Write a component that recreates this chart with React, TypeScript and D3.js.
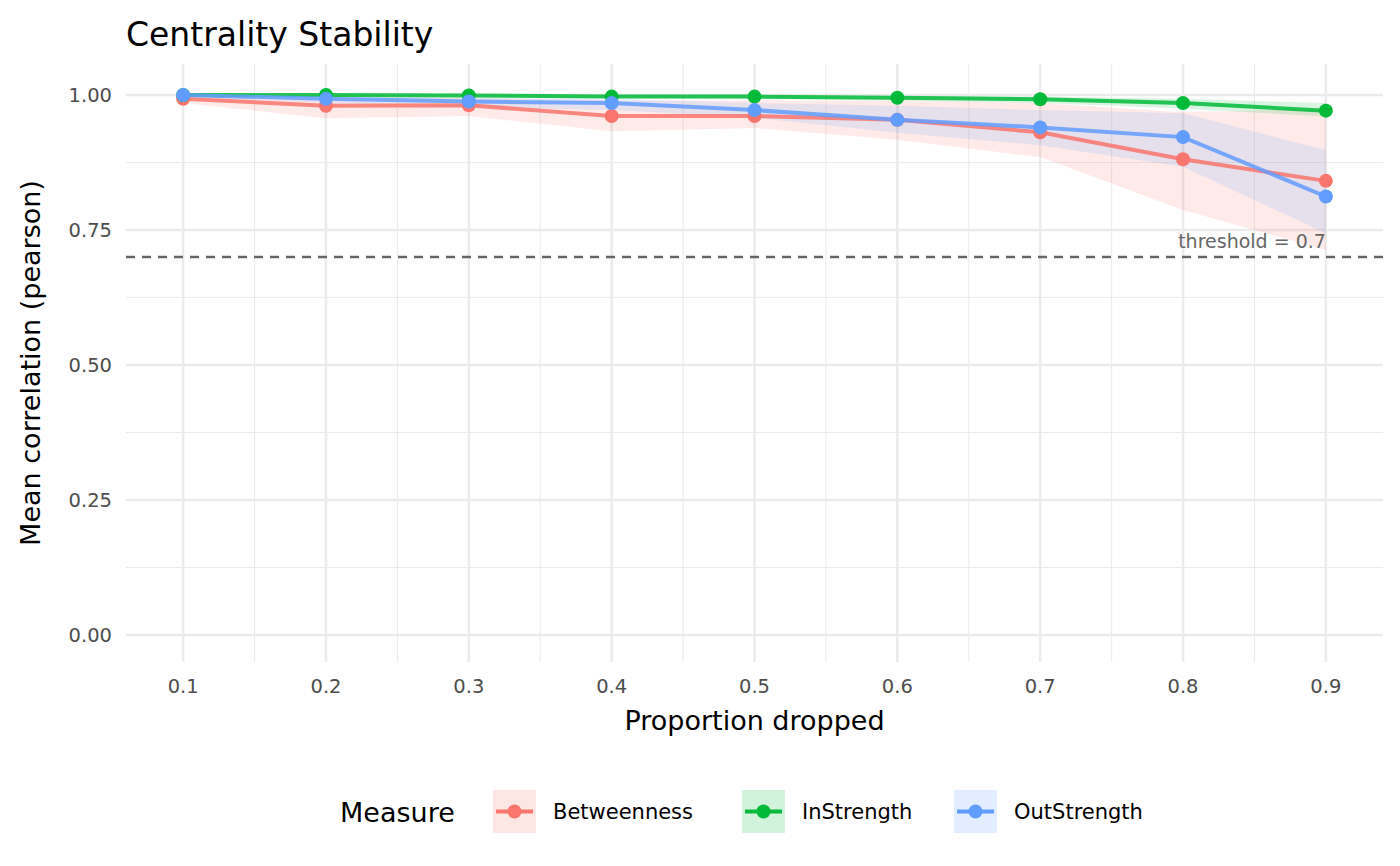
import * as d3 from "d3"

const props = [0.1, 0.2, 0.3, 0.4, 0.5, 0.6, 0.7, 0.8, 0.9]
const measures = ["Betweenness", "InStrength", "OutStrength"]
const colors = ["#F8766D", "#00BA38", "#619CFF"]

const betMean = [0.993, 0.98, 0.981, 0.961, 0.961, 0.954, 0.931, 0.881, 0.841]
const betLo = [0.985, 0.957, 0.961, 0.933, 0.939, 0.917, 0.885, 0.787, 0.713]
const betHi = [0.999, 0.995, 0.995, 0.99, 0.99, 0.99, 0.985, 0.968, 0.975]
const inMean = [1.0, 1.0, 0.999, 0.997, 0.997, 0.995, 0.992, 0.985, 0.971]
const inLo = [0.999, 0.998, 0.997, 0.994, 0.993, 0.99, 0.985, 0.975, 0.96]
const inHi = [1.0, 1.0, 1.0, 0.999, 0.999, 0.998, 0.997, 0.993, 0.985]
const outMean = [1.0, 0.993, 0.988, 0.985, 0.972, 0.954, 0.94, 0.922, 0.812]
const outLo = [0.997, 0.985, 0.978, 0.972, 0.958, 0.93, 0.907, 0.867, 0.744]
const outHi = [1.0, 0.998, 0.995, 0.993, 0.985, 0.98, 0.972, 0.966, 0.898]

const yTicks = [0, 0.25, 0.5, 0.75, 1]
const threshold = 0.7

const series = [
  { mean: betMean, lo: betLo, hi: betHi },
  { mean: inMean, lo: inLo, hi: inHi },
  { mean: outMean, lo: outLo, hi: outHi },
]

export default function App() {
  const W = 1400, H = 866
  const L = 126, R = 1383, T = 64, B = 662
  const x = d3.scaleLinear().domain([0.06, 0.94]).range([L, R])
  const y = d3.scaleLinear().domain([-0.05, 1.0574]).range([B, T])
  const font = "DejaVu Sans, sans-serif"
  const grid = "#EBEBEB"
  const minorX = d3.range(0, 8).map((i) => 0.15 + i * 0.1)
  const minorY = [0.125, 0.375, 0.625, 0.875]
  const line = d3.line<number>().x((_, i) => x(props[i])).y((d) => y(d))
  const legItems = [
    { x: 493, tx: 553 },
    { x: 742, tx: 802 },
    { x: 954, tx: 1014 },
  ]
  return (
    <svg width={W} height={H} style={{ position: "absolute", left: 0, top: 0 }} fontFamily={font}>
      <rect width={W} height={H} fill="white" />
      {minorX.map((v) => (
        <line key={"mx" + v} x1={x(v)} x2={x(v)} y1={T} y2={B} stroke={grid} strokeWidth={1.1} />
      ))}
      {minorY.map((v) => (
        <line key={"my" + v} x1={L} x2={R} y1={y(v)} y2={y(v)} stroke={grid} strokeWidth={1.1} />
      ))}
      {props.map((v) => (
        <line key={"gx" + v} x1={x(v)} x2={x(v)} y1={T} y2={B} stroke={grid} strokeWidth={2.5} />
      ))}
      {yTicks.map((v) => (
        <line key={"gy" + v} x1={L} x2={R} y1={y(v)} y2={y(v)} stroke={grid} strokeWidth={2.5} />
      ))}
      {series.map((s, k) => (
        <path
          key={"r" + k}
          d={
            d3
              .area<number>()
              .x((_, i) => x(props[i]))
              .y0((_, i) => y(s.lo[i]))
              .y1((_, i) => y(s.hi[i]))(s.mean) || ""
          }
          fill={colors[k]}
          fillOpacity={0.15}
        />
      ))}
      <line x1={L} x2={R} y1={y(threshold)} y2={y(threshold)} stroke="#666666" strokeWidth={2.6} strokeDasharray="9 7" />
      <text x={x(0.9)} y={y(threshold) - 9} textAnchor="end" fontSize={19} fill="#666666">
        threshold = 0.7
      </text>
      {series.map((s, k) => (
        <g key={"l" + k}>
          <path d={line(s.mean) || ""} fill="none" stroke={colors[k]} strokeWidth={4} strokeOpacity={0.85} />
          {s.mean.map((v, i) => (
            <circle key={i} cx={x(props[i])} cy={y(v)} r={7} fill={colors[k]} />
          ))}
        </g>
      ))}
      {yTicks.map((v) => (
        <text key={"yt" + v} x={L - 14} y={y(v)} dy="0.35em" textAnchor="end" fontSize={19.5} fill="#4D4D4D">
          {v.toFixed(2)}
        </text>
      ))}
      {props.map((v) => (
        <text key={"xt" + v} x={x(v)} y={B + 31} textAnchor="middle" fontSize={19.5} fill="#4D4D4D">
          {v.toFixed(1)}
        </text>
      ))}
      <text x={(L + R) / 2 + 0} y={730} textAnchor="middle" fontSize={27}>
        Proportion dropped
      </text>
      <text transform={`translate(40,${(T + B) / 2}) rotate(-90)`} textAnchor="middle" fontSize={27}>
        Mean correlation (pearson)
      </text>
      <text x={L} y={46} fontSize={33}>
        Centrality Stability
      </text>
      <text x={340} y={822} fontSize={27}>
        Measure
      </text>
      {legItems.map((it, k) => (
        <g key={"lg" + k}>
          <rect x={it.x} y={790} width={43} height={43} fill={colors[k]} fillOpacity={0.18} />
          <line x1={it.x + 3} x2={it.x + 40} y1={811.5} y2={811.5} stroke={colors[k]} strokeWidth={4} />
          <circle cx={it.x + 21.5} cy={811.5} r={7} fill={colors[k]} />
          <text x={it.tx} y={811.5} dy="0.35em" fontSize={21}>
            {measures[k]}
          </text>
        </g>
      ))}
    </svg>
  )
}
